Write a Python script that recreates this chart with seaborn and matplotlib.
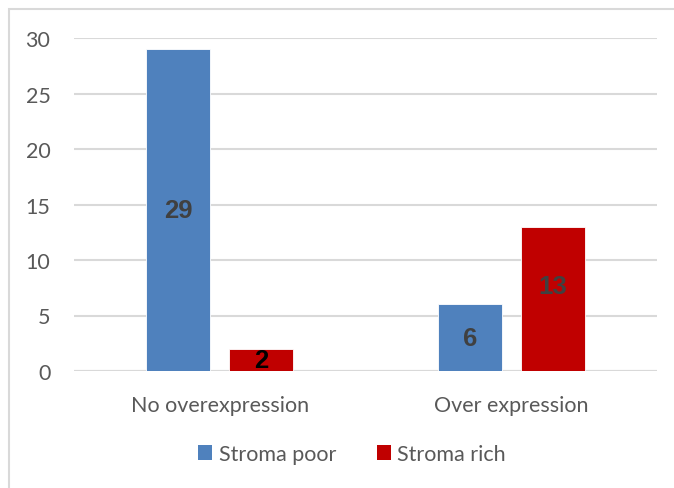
import matplotlib
matplotlib.use("Agg")
import matplotlib.pyplot as plt
import seaborn as sns
import pandas as pd
from matplotlib.patches import Rectangle, Patch

# Counts of cases by expression status and stroma content
categories = ["No overexpression", "Over expression"]
groups = ["Stroma poor", "Stroma rich"]
stroma_poor = [29, 6]
stroma_rich = [2, 13]
y_ticks = [0, 5, 10, 15, 20, 25, 30]

df = pd.DataFrame({
    "category": categories * 2,
    "group": [groups[0]] * 2 + [groups[1]] * 2,
    "count": stroma_poor + stroma_rich,
})

BLUE = "#4F81BD"
RED = "#C00000"
GRID = "#D9D9D9"
TEXT = "#595959"

sns.set_theme(style="white")
plt.rcParams["font.family"] = ["Lato", "DejaVu Sans"]

fig = plt.figure(figsize=(6.74, 4.89), dpi=100)
ax = fig.add_axes([74 / 674, 1 - 372 / 489, (657 - 74) / 674, (372 - 39) / 489])

sns.barplot(data=df, x="category", y="count", hue="group", order=categories,
            hue_order=groups, palette=[BLUE, RED], saturation=1, width=0.57, gap=0.23,
            edgecolor="white", linewidth=0.6, legend=False, ax=ax, zorder=3)

ax.set_ylim(0, 30)
ax.set_xlim(-0.5, 1.5)
ax.set_yticks(y_ticks)
ax.yaxis.grid(True, color=GRID, linewidth=1.5, zorder=0)
ax.set_axisbelow(True)
for s in ax.spines.values():
    s.set_visible(False)
ax.axhline(0, color=GRID, linewidth=1.5, zorder=2)
ax.set_xlabel("")
ax.set_ylabel("")
ax.tick_params(axis="both", length=0, labelsize=15.5, labelcolor=TEXT)
ax.tick_params(axis="y", pad=17)
ax.tick_params(axis="x", pad=17)

# Value labels centred in each bar
label_colors = {("Stroma poor", 0): "#404040", ("Stroma poor", 1): "#404040",
                ("Stroma rich", 0): "#000000", ("Stroma rich", 1): "#404040"}
label_shift = {("Stroma rich", 1): 9}
for grp, cont in zip(groups, ax.containers):
    for i, bar in enumerate(cont):
        v = bar.get_height()
        ax.annotate(f"{v:.0f}", (bar.get_x() + bar.get_width() / 2, v / 2),
                    xytext=(0, label_shift.get((grp, i), 0)), textcoords="offset points",
                    ha="center", va="center", fontsize=18.5, fontweight="bold",
                    family=["Liberation Sans", "DejaVu Sans"],
                    color=label_colors[(grp, i)], zorder=5)

handles = [Patch(facecolor=BLUE, edgecolor="none"), Patch(facecolor=RED, edgecolor="none")]
leg = fig.legend(handles, groups, loc="center", bbox_to_anchor=(352 / 674, 1 - 455 / 489),
                 ncol=2, frameon=False, fontsize=15.5, handlelength=0.65, handleheight=0.65,
                 handletextpad=0.3, columnspacing=1.9)
for t in leg.get_texts():
    t.set_color(TEXT)

fig.add_artist(Rectangle((9 / 674, -0.1), 1.2, 1.1 - 10 / 489, transform=fig.transFigure,
                         fill=False, edgecolor=GRID, linewidth=1.5, clip_on=False))

fig.savefig("out.png", dpi=100, facecolor="white")
